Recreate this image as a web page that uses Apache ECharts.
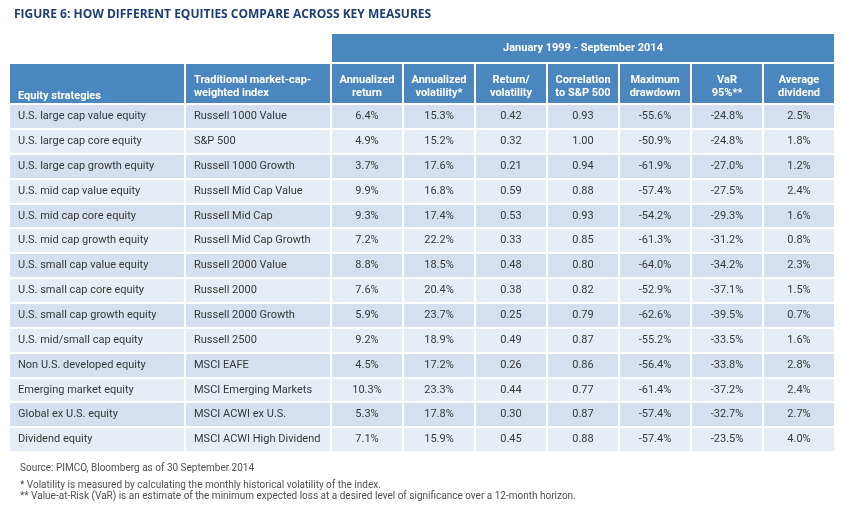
<!DOCTYPE html>
<html>
<head>
<meta charset="utf-8">
<script src="https://cdn.jsdelivr.net/npm/echarts@6.0.0/dist/echarts.min.js"></script>
<style>
  html, body { margin: 0; padding: 0; background: #fff; }
  #main { width: 843px; height: 507px; }
</style>
</head>
<body>
<div id="main"></div>
<script>
var strategies = [
    "U.S. large cap value equity", "U.S. large cap core equity", "U.S. large cap growth equity",
    "U.S. mid cap value equity", "U.S. mid cap core equity", "U.S. mid cap growth equity",
    "U.S. small cap value equity", "U.S. small cap core equity", "U.S. small cap growth equity",
    "U.S. mid/small cap equity", "Non U.S. developed equity", "Emerging market equity",
    "Global ex U.S. equity", "Dividend equity"
];
var indices = [
    "Russell 1000 Value", "S&P 500", "Russell 1000 Growth",
    "Russell Mid Cap Value", "Russell Mid Cap", "Russell Mid Cap Growth",
    "Russell 2000 Value", "Russell 2000", "Russell 2000 Growth",
    "Russell 2500", "MSCI EAFE", "MSCI Emerging Markets",
    "MSCI ACWI ex U.S.", "MSCI ACWI High Dividend"
];
var annReturn = [6.4, 4.9, 3.7, 9.9, 9.3, 7.2, 8.8, 7.6, 5.9, 9.2, 4.5, 10.3, 5.3, 7.1];
var annVolatility = [15.3, 15.2, 17.6, 16.8, 17.4, 22.2, 18.5, 20.4, 23.7, 18.9, 17.2, 23.3, 17.8, 15.9];
var returnVol = [0.42, 0.32, 0.21, 0.59, 0.53, 0.33, 0.48, 0.38, 0.25, 0.49, 0.26, 0.44, 0.30, 0.45];
var corrSP500 = [0.93, 1.00, 0.94, 0.88, 0.93, 0.85, 0.80, 0.82, 0.79, 0.87, 0.86, 0.77, 0.87, 0.88];
var maxDrawdown = [-55.6, -50.9, -61.9, -57.4, -54.2, -61.3, -64.0, -52.9, -62.6, -55.2, -56.4, -61.4, -57.4, -57.4];
var var95 = [-24.8, -24.8, -27.0, -27.5, -29.3, -31.2, -34.2, -37.1, -39.5, -33.5, -33.8, -37.2, -32.7, -23.5];
var avgDividend = [2.5, 1.8, 1.2, 2.4, 1.6, 0.8, 2.3, 1.5, 0.7, 1.6, 2.8, 2.4, 2.7, 4.0];

var periodLabel = "January 1999 - September 2014";
var colHeaders = [
    ["Equity strategies"], ["Traditional market-cap-", "weighted index"], ["Annualized", "return"],
    ["Annualized", "volatility*"], ["Return/", "volatility"], ["Correlation", "to S&P 500"],
    ["Maximum", "drawdown"], ["VaR", "95%**"], ["Average", "dividend"]
];

var FONT = "Roboto";
var HEAD_BLUE = "#4b87bf";
var ROW_DARK = "#d4e0ef";
var ROW_LIGHT = "#e6edf6";
var TEXT = "#383838";

var colSizes = [176, 146, 72, 72, 72, 72, 72, 72, 72];
var colIds = colSizes.map(function (s, i) { return "c" + i; });
var rowIds = ["h0", "h1"];
var rowSizes = [30, 41];
strategies.forEach(function (s, i) {
    rowIds.push("r" + i);
    rowSizes.push(24.85);
});

function pct(v) {
    return v.toFixed(1) + "%";
}
function dec(v) {
    return v.toFixed(2);
}

// header text: first line sits a bit lower than plain centering
var headRich = {
    t: { color: "#fff", fontFamily: FONT, fontSize: 11, fontWeight: "bold", lineHeight: 21, verticalAlign: "bottom" },
    s: { color: "#fff", fontFamily: FONT, fontSize: 11, fontWeight: "bold", lineHeight: 37, verticalAlign: "bottom" },
    n: { color: "#fff", fontFamily: FONT, fontSize: 11, fontWeight: "bold", lineHeight: 14 }
};

// build cells
var cells = [];
cells.push({
    coord: [["c2", "c8"], "h0"],
    mergeCells: true,
    value: periodLabel,
    itemStyle: { color: HEAD_BLUE },
    label: { color: "#fff", fontWeight: "bold" }
});
cells.push({ coord: ["c0", "h0"], value: "", itemStyle: { color: "#fff" } });
cells.push({ coord: ["c1", "h0"], value: "", itemStyle: { color: "#fff" } });
colHeaders.forEach(function (lines, i) {
    var left = i < 2;
    var txt = lines.length === 1
        ? "{s|" + lines[0] + "}"
        : "{t|" + lines[0] + "}\n{n|" + lines[1] + "}";
    cells.push({
        coord: [colIds[i], "h1"],
        value: txt,
        itemStyle: { color: HEAD_BLUE },
        label: {
            color: "#fff",
            fontWeight: "bold",
            rich: headRich,
            align: left ? "left" : "center",
            position: left ? "insideLeft" : "inside",
            distance: 6
        }
    });
});
strategies.forEach(function (s, r) {
    var bg = r % 2 === 0 ? ROW_DARK : ROW_LIGHT;
    var row = [s, indices[r], pct(annReturn[r]), pct(annVolatility[r]), dec(returnVol[r]),
        dec(corrSP500[r]), pct(maxDrawdown[r]), pct(var95[r]), pct(avgDividend[r])];
    row.forEach(function (v, c) {
        var left = c < 2;
        cells.push({
            coord: [colIds[c], "r" + r],
            value: v,
            itemStyle: { color: bg },
            label: {
                align: left ? "left" : "center",
                position: left ? "insideLeft" : "inside",
                distance: 6
            }
        });
    });
});

var chart = echarts.init(document.getElementById("main"));
var option = {
    animation: false,
    title: [{
        text: "FIGURE 6: HOW DIFFERENT EQUITIES COMPARE ACROSS KEY MEASURES",
        left: 9,
        top: 4,
        textStyle: { fontFamily: "Open Sans", fontSize: 12, fontWeight: "bold", color: "#1d3d75" }
    }, {
        text: "Source: PIMCO, Bloomberg as of 30 September 2014",
        left: 15,
        top: 458,
        textStyle: { fontFamily: FONT, fontSize: 10, fontWeight: "normal", color: "#505050" }
    }, {
        text: "* Volatility is measured by calculating the monthly historical volatility of the index.\n" +
            "** Value-at-Risk (VaR) is an estimate of the minimum expected loss at a desired level of significance over a 12-month horizon.",
        left: 15,
        top: 475,
        textStyle: { fontFamily: FONT, fontSize: 10, fontWeight: "normal", color: "#505050", lineHeight: 11 }
    }],
    matrix: {
        left: 9,
        top: 33,
        width: 826,
        height: 419,
        x: {
            show: false,
            data: colIds.map(function (id, i) { return { value: id, size: colSizes[i] }; })
        },
        y: {
            show: false,
            data: rowIds.map(function (id, i) { return { value: id, size: rowSizes[i] }; })
        },
        backgroundStyle: { color: "#fff", borderWidth: 0 },
        body: {
            itemStyle: { borderColor: "#fff", borderWidth: 2 },
            label: { fontFamily: FONT, fontSize: 11, color: TEXT, overflow: "none" },
            data: cells
        }
    }
};
chart.setOption(option);
</script>
</body>
</html>
